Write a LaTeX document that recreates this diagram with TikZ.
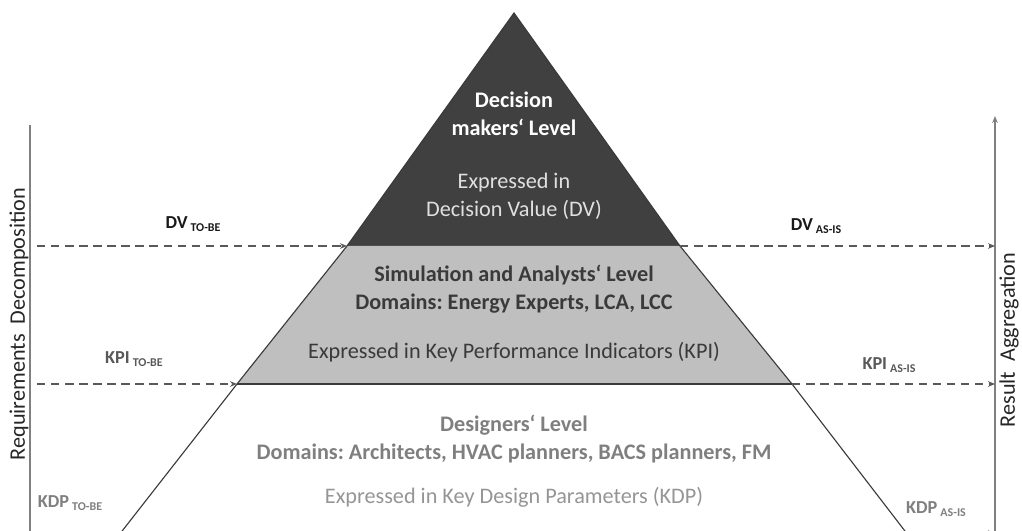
\documentclass[tikz,border=0pt]{standalone}
\usepackage{fontspec}
\setmainfont{Carlito}
\usepackage{tikz}
\usetikzlibrary{arrows.meta,positioning}
\definecolor{pyrdark}{HTML}{404040}
\definecolor{pyrgray}{HTML}{BFBFBF}
\definecolor{pyrline}{HTML}{3A3A3A}
\definecolor{axgray}{HTML}{808080}
\definecolor{dashgray}{HTML}{595959}
\definecolor{txtmid}{HTML}{3A3A3A}
\definecolor{txtlow}{HTML}{7F7F7F}
\definecolor{txtlight}{HTML}{959595}
\newcommand{\sublbl}[2]{#1\,{\fontsize{8.5}{10}\selectfont\raisebox{-0.45ex}{#2}}}
\frenchspacing

\begin{document}
\begin{tikzpicture}[
  x=0.025cm,y=-0.025cm,
  every node/.style={font=\fontsize{15.8}{19.9}\selectfont,inner sep=0pt},
  lvl/.style={align=center},
  hd/.style={align=center,font=\fontsize{15.8}{19.9}\selectfont\bfseries},
  tag/.style={font=\fontsize{13}{15}\selectfont\bfseries},
  edge/.style={draw=pyrline,line width=0.8pt},
  ax/.style={draw=axgray,line width=1pt},
  dsh/.style={-{Stealth[length=5pt,width=4pt]},dash pattern=on 6pt off 4pt,
              line width=1pt,dashgray}
]
\useasboundingbox (0,0) rectangle (1022,531);
% pyramid corners
\coordinate (top) at (514,13);
\coordinate (dvL) at (347,246);
\coordinate (dvR) at (680,246);
\coordinate (kpiL) at (237,384);
\coordinate (kpiR) at (792,384);
\coordinate (kdpL) at (119,535);
\coordinate (kdpR) at (908,535);
\fill[pyrdark] (top)--(dvR)--(dvL)--cycle;
\fill[pyrgray] (dvL)--(dvR)--(kpiR)--(kpiL)--cycle;
\draw[edge] (kdpL)--(kpiL)--(dvL)--(top)--(dvR)--(kpiR)--(kdpR);
\draw[edge] (kpiL)--(kpiR);

% axes
\coordinate (reqT) at (30,125);
\coordinate (reqB) at (30,545);
\coordinate (resB) at (995,545);
\coordinate (resT) at (995,116);
\draw[ax] (reqT)--(reqB);
\draw[ax,-{Stealth[length=5pt,width=4pt]}] (resB)--(resT);
\node[rotate=90,black!85] (req) at (19,324) {Requirements\ \ Decomposition};
\node[rotate=90,black!85] (res) at (1009,340) {Result\ \ Aggregation};

% levels
\node[hd,white] (dm) at (514,114) {Decision\\makers‘ Level};
\node[lvl,white!88!black] (dmx) at (514,196) {Expressed in\\Decision Value (DV)};
\node[hd,txtmid] (sa) at (514,289)
     {Simulation and Analysts‘ Level\\Domains: Energy Experts, LCA, LCC};
\node[lvl,txtmid] (sax) at (514,352) {Expressed in Key Performance Indicators (KPI)};
\node[hd,txtlow] (dl) at (514,439)
     {Designers‘ Level\\Domains: Architects, HVAC planners, BACS planners, FM};
\node[lvl,txtlight] (dlx) at (514,497) {Expressed in Key Design Parameters (KDP)};

% flows
\coordinate (dvS) at (37,246);
\coordinate (dvE) at (995,246);
\coordinate (kpiS) at (37,384);
\coordinate (kpiE) at (995,384);
\coordinate (kdpS) at (37,533);
\coordinate (kdpE) at (995,533);
\draw[dsh] (dvS)--(dvL);
\draw[dsh] (dvR)--(dvE);
\draw[dsh] (kpiS)--(kpiL);
\draw[dsh] (kpiR)--(kpiE);
\draw[dsh] (kdpS)--(kdpL);
\draw[dsh] (kdpR)--(kdpE);
\node[tag,black!90] (dvtb) at (193,224) {\sublbl{DV}{TO-BE}};
\node[tag,black!90] (dvai) at (816,226) {\sublbl{DV}{AS-IS}};
\node[tag,dashgray] (kpitb) at (134,359) {\sublbl{KPI}{TO-BE}};
\node[tag,dashgray] (kpiai) at (889,365) {\sublbl{KPI}{AS-IS}};
\node[tag,txtlow] (kdptb) at (70,503) {\sublbl{KDP}{TO-BE}};
\node[tag,txtlow] (kdpai) at (936,509) {\sublbl{KDP}{AS-IS}};
\end{tikzpicture}
\end{document}
